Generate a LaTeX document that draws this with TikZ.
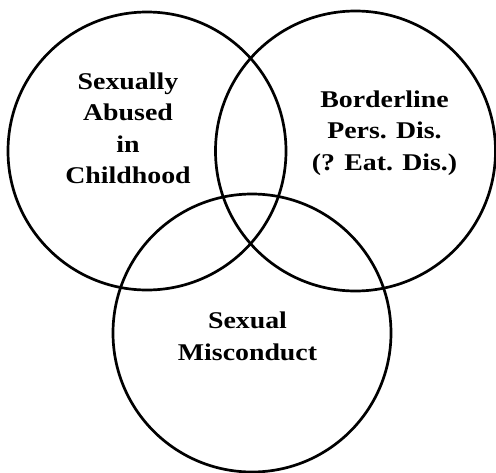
\documentclass[tikz,border=0pt]{standalone}
\usepackage{fontspec}
\setmainfont{Liberation Serif}
\begin{document}
\begin{tikzpicture}[x=1pt,y=-1pt,
  ring/.style={draw=black,line width=2.7pt},
  lbl/.style={font=\bfseries\fontsize{24}{31.3}\selectfont,align=center,inner sep=0pt,anchor=base,xscale=1.16,transform shape}]
\useasboundingbox (0,0) rectangle (496,472);
\draw[ring] (147,151) circle[radius=139];
\draw[ring] (355.5,151) circle[radius=140];
\draw[ring] (252,333) circle[radius=139];
\node[lbl] (abuse) at (128,183.3) {Sexually\\Abused\\in\\Childhood};
\node[lbl] (border) at (384.5,170) {Borderline\\Pers. Dis.\\(? Eat. Dis.)};
\node[lbl] (misc) at (247.5,360) {Sexual\\Misconduct};
\end{tikzpicture}
\end{document}
